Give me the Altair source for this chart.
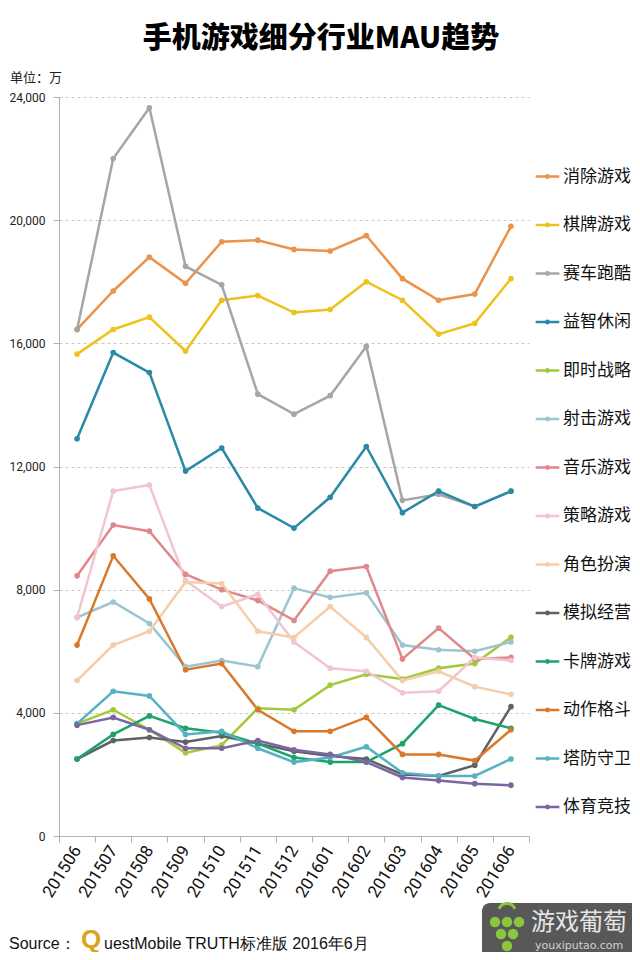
import altair as alt
import pandas as pd

# ---------------- data ----------------
months = ["201506", "201507", "201508", "201509", "201510", "201511", "201512",
          "201601", "201602", "201603", "201604", "201605", "201606"]

names = ["消除游戏", "棋牌游戏", "赛车跑酷", "益智休闲", "即时战略", "射击游戏", "音乐游戏",
         "策略游戏", "角色扮演", "模拟经营", "卡牌游戏", "动作格斗", "塔防守卫", "体育竞技"]

colors = ["#E9934C", "#EEC21C", "#A6A6A6", "#2A88A8", "#A3C93A", "#9CC5D1", "#E0878C",
          "#F1C6CF", "#F4CDA9", "#5F6068", "#1BA36B", "#D8782B", "#56B2C2", "#7B66A0"]

xiaochu = [16450, 17700, 18800, 17950, 19300, 19350, 19050, 19000, 19500, 18100, 17400, 17600, 19800]
qipai = [15650, 16450, 16850, 15750, 17400, 17550, 17000, 17100, 18000, 17400, 16300, 16650, 18100]
saiche = [16450, 22000, 23650, 18500, 17900, 14350, 13700, 14300, 15900, 10900, 11100, 10700, 11200]
yizhi = [12900, 15700, 15050, 11850, 12600, 10650, 10000, 11000, 12650, 10500, 11200, 10700, 11200]
jishi = [3650, 4100, 3450, 2700, 2950, 4150, 4100, 4900, 5250, 5100, 5450, 5600, 6450]
sheji = [7100, 7600, 6900, 5500, 5700, 5500, 8050, 7750, 7900, 6200, 6050, 6000, 6300]
yinyue = [8450, 10100, 9900, 8500, 8000, 7650, 7000, 8600, 8750, 5750, 6750, 5750, 5800]
celue = [7100, 11200, 11400, 8300, 7450, 7850, 6300, 5450, 5350, 4650, 4700, 5800, 5700]
juese = [5050, 6200, 6650, 8250, 8200, 6650, 6450, 7450, 6450, 5050, 5350, 4850, 4600]
moni = [2500, 3100, 3200, 3050, 3250, 3000, 2750, 2600, 2500, 2000, 1950, 2300, 4200]
kapai = [2500, 3300, 3900, 3500, 3350, 3000, 2550, 2400, 2400, 3000, 4250, 3800, 3500]
dongzuo = [6200, 9100, 7700, 5400, 5600, 4100, 3400, 3400, 3850, 2650, 2650, 2450, 3450]
tafang = [3650, 4700, 4550, 3300, 3400, 2850, 2400, 2550, 2900, 2050, 1950, 1950, 2500]
tiyu = [3600, 3850, 3450, 2850, 2850, 3100, 2800, 2650, 2400, 1900, 1800, 1700, 1650]

series_values = [xiaochu, qipai, saiche, yizhi, jishi, sheji, yinyue,
                 celue, juese, moni, kapai, dongzuo, tafang, tiyu]

y_ticks = [0, 4000, 8000, 12000, 16000, 20000, 24000]

title_text = "手机游戏细分行业MAU趋势"
unit_text = ["单位：万"]
source_text = ["Source："]
q_text = ["Q"]
source_rest = ["uestMobile TRUTH标准版 2016年6月"]
logo_text = ["游戏葡萄"]
logo_url = ["youxiputao.com"]

rows = []
for k, (n, vals) in enumerate(zip(names, series_values)):
    for m, v in zip(months, vals):
        rows.append({"month": m, "series": n, "value": v, "k": k})
df = pd.DataFrame(rows)

FONT = "Noto Sans CJK SC"
LEG_PATH = "M-1,0L1,0M0.1,0A0.1,0.1,0,1,1,-0.1,0A0.1,0.1,0,1,1,0.1,0Z"

x_enc = alt.X(
    "month:O",
    scale=alt.Scale(type="band", domain=months, paddingInner=0, paddingOuter=0),
    axis=alt.Axis(title=None, labelAngle=-58, labelFontSize=17, labelFont="Roboto",
                  labelColor="#111111", tickBand="extent", domainColor="#b0b0b0",
                  tickColor="#b0b0b0", tickSize=6, labelPadding=5, grid=False),
)
y_enc = alt.Y(
    "value:Q",
    scale=alt.Scale(domain=[0, 24000], nice=False),
    axis=alt.Axis(title=None, values=y_ticks, format=",d", labelFontSize=12,
                  labelFont="Roboto", labelColor="#222222", gridDash=[3, 3],
                  gridColor="#c8c8c8", domainColor="#b0b0b0", tickColor="#b0b0b0",
                  tickSize=6, labelPadding=8),
)

lines = alt.Chart(df).mark_line(strokeWidth=2.5).encode(
    x=x_enc,
    y=y_enc,
    color=alt.Color(
        "series:N",
        scale=alt.Scale(domain=names, range=colors),
        legend=alt.Legend(
            title=None, orient="none", legendX=475, legendY=66,
            symbolType=LEG_PATH, symbolSize=560, symbolStrokeWidth=2.5,
            labelFontSize=17, labelFont=FONT, labelColor="#111111",
            rowPadding=26.5, labelOffset=2, padding=0,
        ),
    ),
    order="k:Q",
)

points = alt.Chart(df).mark_point(filled=True, size=32, opacity=1).encode(
    x=alt.X("month:O", scale=alt.Scale(type="band", domain=months, paddingInner=0, paddingOuter=0)),
    y="value:Q",
    fill=alt.Fill("series:N", scale=alt.Scale(domain=names, range=colors), legend=None),
)

unit = alt.Chart(pd.DataFrame({"t": unit_text})).mark_text(
    align="left", baseline="middle", fontSize=13, font=FONT, color="#222222"
).encode(text="t:N", x=alt.value(-49), y=alt.value(-19))

src1 = alt.Chart(pd.DataFrame({"t": source_text})).mark_text(
    align="left", baseline="alphabetic", fontSize=16, font="Liberation Sans", color="#111111"
).encode(text="t:N", x=alt.value(-50), y=alt.value(852))

src_q = alt.Chart(pd.DataFrame({"t": q_text})).mark_text(
    align="left", baseline="alphabetic", fontSize=26, font="Liberation Sans",
    fontWeight="bold", color="#D9A520"
).encode(text="t:N", x=alt.value(22), y=alt.value(851))

src2 = alt.Chart(pd.DataFrame({"t": source_rest})).mark_text(
    align="left", baseline="alphabetic", fontSize=16, font="Liberation Sans", color="#111111"
).encode(text="t:N", x=alt.value(45), y=alt.value(852))

logo_box = alt.Chart(pd.DataFrame({"t": logo_text})).mark_rect(
    cornerRadius=8, color="#4a4a4a", opacity=0.92
).encode(x=alt.value(423), x2=alt.value(580), y=alt.value(806), y2=alt.value(862))

logo_t = alt.Chart(pd.DataFrame({"t": logo_text})).mark_text(
    align="left", baseline="middle", fontSize=24, font=FONT, color="#e6e6e6"
).encode(text="t:N", x=alt.value(472), y=alt.value(826))

logo_u = alt.Chart(pd.DataFrame({"t": logo_url})).mark_text(
    align="left", baseline="middle", fontSize=11, font="DejaVu Sans", color="#d0d0d0"
).encode(text="t:N", x=alt.value(476), y=alt.value(849))

grape = []
for gx, gy in [(436, 825), (448, 825), (460, 825), (442, 837), (454, 837), (448, 849)]:
    grape.append(
        alt.Chart(pd.DataFrame({"t": ["o"]})).mark_circle(size=110, color="#8CC63F", opacity=1)
        .encode(x=alt.value(gx), y=alt.value(gy))
    )
grape_arc = alt.Chart(pd.DataFrame({"t": ["o"]})).mark_arc(
    innerRadius=7, outerRadius=10, theta=5.1, theta2=7.47, color="#8CC63F"
).encode(x=alt.value(448), y=alt.value(815))

chart = alt.layer(
    lines, points, unit, src1, src_q, src2, logo_box, logo_t, logo_u, grape_arc, *grape
).properties(
    width=470,
    height=739,
    padding={"left": 51, "top": 89, "right": 103, "bottom": 116},
    autosize=alt.AutoSizeParams(type="none"),
    title=alt.Title(text=title_text, fontSize=29, fontWeight=900, font=FONT,
                    anchor="middle", dx=27, offset=18, color="#000000"),
    background="#ffffff",
).configure_view(stroke=None)

chart.save("out.html", embed_options={"renderer": "svg", "actions": False})
